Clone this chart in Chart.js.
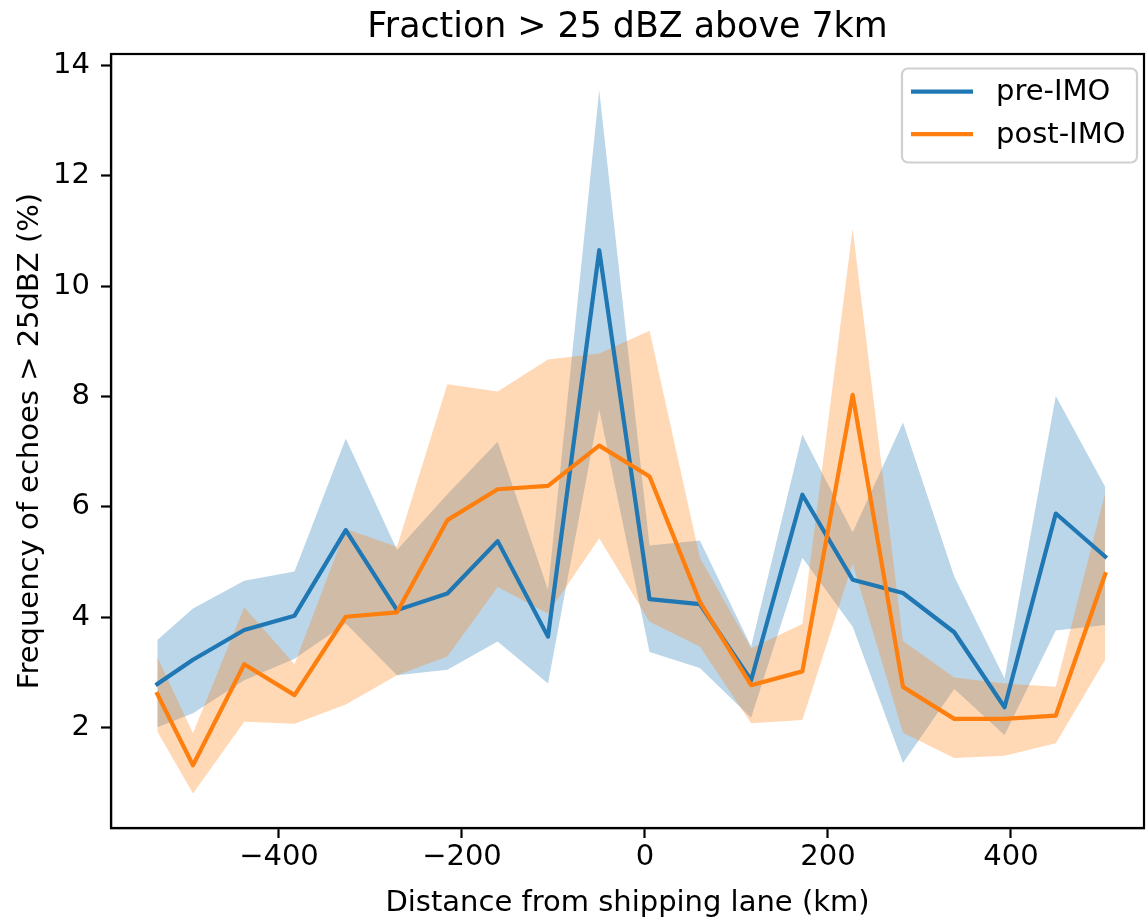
<!DOCTYPE html>
<html>
<head>
<meta charset="utf-8">
<script src="https://cdn.jsdelivr.net/npm/chart.js@4.4.1/dist/chart.umd.min.js"></script>
<style>
  html, body { margin: 0; padding: 0; background: #ffffff; }
  canvas { display: block; }
</style>
</head>
<body>
<canvas id="c" width="1146" height="922"></canvas>
<script>
// ---- data ----
const distanceKm = [-533, -494, -438, -383, -327, -271, -216, -161, -106, -50, 5, 60, 116, 172, 227, 282, 338, 393, 449, 503];

const preMean  = [2.79, 3.23, 3.77, 4.03, 5.58, 4.13, 4.43, 5.38, 3.65, 10.65, 4.33, 4.24, 2.86, 6.22, 4.68, 4.44, 3.73, 2.37, 5.88, 5.10];
const preUpper = [3.59, 4.16, 4.66, 4.83, 7.24, 5.22, 6.23, 7.18, 4.50, 13.55, 5.30, 5.39, 3.47, 7.31, 5.54, 7.53, 4.74, 2.89, 8.01, 6.36];
const preLower = [2.01, 2.26, 2.86, 3.25, 3.89, 2.95, 3.05, 3.56, 2.80, 7.76, 3.37, 3.08, 2.18, 5.08, 3.83, 1.36, 2.70, 1.87, 3.76, 3.86];

const postMean  = [2.61, 1.32, 3.15, 2.59, 4.01, 4.09, 5.76, 6.32, 6.38, 7.11, 6.55, 4.28, 2.77, 3.02, 8.03, 2.74, 2.16, 2.16, 2.22, 4.78];
const postUpper = [3.28, 1.90, 4.18, 3.15, 5.60, 5.28, 8.22, 8.09, 8.67, 8.78, 9.19, 5.08, 3.44, 3.88, 11.04, 3.57, 2.91, 2.80, 2.74, 6.25];
const postLower = [1.93, 0.81, 2.11, 2.07, 2.42, 2.95, 3.29, 4.55, 4.07, 5.43, 3.92, 3.47, 2.08, 2.14, 4.97, 1.91, 1.45, 1.49, 1.72, 3.23];

const xTickValues = [-400, -200, 0, 200, 400];
const yTickValues = [2, 4, 6, 8, 10, 12, 14];

const seriesLabels = ['pre-IMO', 'post-IMO'];
const titleText = 'Fraction > 25 dBZ above 7km';
const xTitle = 'Distance from shipping lane (km)';
const yTitle = 'Frequency of echoes > 25dBZ (%)';

// ---- styling ----
const BLUE = '#1f77b4';
const ORANGE = '#ff7f0e';
const BLUE_FILL = 'rgba(31,119,180,0.3)';
const ORANGE_FILL = 'rgba(255,127,14,0.3)';
const FONT = 'DejaVu Sans';
const FS = 29;
const TITLE_FS = 34.8;

const pts = (ys) => distanceKm.map((x, i) => ({ x: x, y: ys[i] }));

const lineDs = (label, ys, color) => ({
  label: label, data: pts(ys), borderColor: color, backgroundColor: color,
  borderWidth: 4.2, pointRadius: 0, pointHoverRadius: 0, tension: 0, fill: false,
  borderJoinStyle: 'round', borderCapStyle: 'square'
});
const bandDs = (ys, fillColor, fillTarget) => ({
  label: '', data: pts(ys), borderColor: 'transparent', borderWidth: 0,
  pointRadius: 0, pointHoverRadius: 0, tension: 0, backgroundColor: fillColor,
  fill: fillTarget
});

const datasets = [
  lineDs(seriesLabels[1], postMean, ORANGE),   // 0 (drawn last -> on top)
  lineDs(seriesLabels[0], preMean, BLUE),      // 1
  bandDs(postUpper, ORANGE_FILL, '+1'),        // 2
  bandDs(postLower, ORANGE_FILL, false),       // 3
  bandDs(preUpper, BLUE_FILL, '+1'),           // 4
  bandDs(preLower, BLUE_FILL, false)           // 5
];

const frameTitleLegend = {
  id: 'frameTitleLegend',
  afterDatasetsDraw(chart) {
    const { ctx, chartArea: a } = chart;
    ctx.save();
    ctx.strokeStyle = '#000';
    ctx.lineWidth = 2.2;
    ctx.strokeRect(a.left, a.top, a.right - a.left, a.bottom - a.top);
    ctx.restore();
  },
  afterDraw(chart) {
    const { ctx, chartArea: a } = chart;
    ctx.save();
    // title centred over the axes
    ctx.font = TITLE_FS + 'px "' + FONT + '"';
    ctx.fillStyle = '#000';
    ctx.textAlign = 'center';
    ctx.textBaseline = 'alphabetic';
    ctx.fillText(titleText, (a.left + a.right) / 2, 37);

    // legend
    const bx = 902, by = 68.5, bw = 235, bh = 94, r = 6;
    ctx.beginPath();
    ctx.moveTo(bx + r, by);
    ctx.lineTo(bx + bw - r, by);
    ctx.arcTo(bx + bw, by, bx + bw, by + r, r);
    ctx.lineTo(bx + bw, by + bh - r);
    ctx.arcTo(bx + bw, by + bh, bx + bw - r, by + bh, r);
    ctx.lineTo(bx + r, by + bh);
    ctx.arcTo(bx, by + bh, bx, by + bh - r, r);
    ctx.lineTo(bx, by + r);
    ctx.arcTo(bx, by, bx + r, by, r);
    ctx.closePath();
    ctx.fillStyle = 'rgba(255,255,255,0.8)';
    ctx.fill();
    ctx.strokeStyle = '#d0d0d0';
    ctx.lineWidth = 2.2;
    ctx.stroke();

    const items = [
      { label: seriesLabels[0], color: BLUE, y: 91.7 },
      { label: seriesLabels[1], color: ORANGE, y: 134.2 }
    ];
    ctx.font = FS + 'px "' + FONT + '"';
    ctx.textBaseline = 'middle';
    ctx.textAlign = 'left';
    items.forEach(it => {
      ctx.beginPath();
      ctx.moveTo(911, it.y);
      ctx.lineTo(973, it.y);
      ctx.strokeStyle = it.color;
      ctx.lineWidth = 4.2;
      ctx.lineCap = 'butt';
      ctx.stroke();
      ctx.fillStyle = '#000';
      ctx.fillText(it.label, 996, it.y + 0.8);
    });
    ctx.restore();
  }
};

const minusFmt = (v) => (v < 0 ? '\u2212' + Math.abs(v) : String(v));

new Chart(document.getElementById('c'), {
  type: 'line',
  data: { datasets: datasets },
  plugins: [frameTitleLegend],
  options: {
    responsive: false,
    animation: false,
    devicePixelRatio: 1,
    layout: { padding: { left: 0, right: 2, top: 54, bottom: 0 } },
    plugins: {
      legend: { display: false },
      tooltip: { enabled: false },
      title: { display: false },
      filler: { drawTime: 'beforeDatasetsDraw', propagate: false }
    },
    scales: {
      x: {
        type: 'linear', min: -583.6, max: 545.4,
        afterBuildTicks: (s) => { s.ticks = xTickValues.map(v => ({ value: v })); },
        afterFit: (s) => { s.height = 94; },
        ticks: {
          color: '#000', padding: 2, maxRotation: 0, autoSkip: false,
          font: { family: FONT, size: FS },
          callback: (v) => minusFmt(v)
        },
        grid: { display: true, drawOnChartArea: false, drawTicks: true, tickLength: 10, tickWidth: 2.2, tickColor: '#000' },
        border: { display: true, color: '#000', width: 2.2 },
        title: {
          display: true, text: xTitle, color: '#000',
          font: { family: FONT, size: FS, lineHeight: 1.2 },
          padding: { top: 0, bottom: 1 }
        }
      },
      y: {
        type: 'linear', min: 0.183, max: 14.205,
        afterBuildTicks: (s) => { s.ticks = yTickValues.map(v => ({ value: v })); },
        afterFit: (s) => { s.width = 111; },
        ticks: {
          color: '#000', padding: 11, autoSkip: false,
          font: { family: FONT, size: FS },
          callback: (v) => minusFmt(v)
        },
        grid: { display: true, drawOnChartArea: false, drawTicks: true, tickLength: 10, tickWidth: 2.2, tickColor: '#000' },
        border: { display: true, color: '#000', width: 2.2 },
        title: {
          display: true, text: yTitle, color: '#000',
          font: { family: FONT, size: FS, lineHeight: 1.2 },
          padding: { top: 13, bottom: 0 }
        }
      }
    }
  }
});
</script>
</body>
</html>
